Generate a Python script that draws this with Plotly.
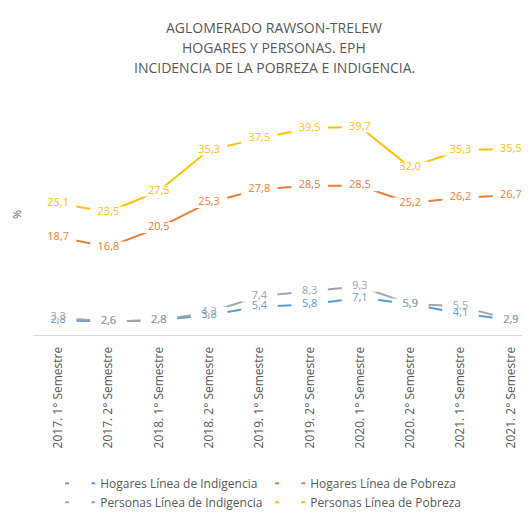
import plotly.graph_objects as go

categories = ["2017. 1° Semestre", "2017. 2° Semestre", "2018. 1° Semestre", "2018. 2° Semestre",
              "2019. 1° Semestre", "2019. 2° Semestre", "2020. 1° Semestre", "2020. 2° Semestre",
              "2021. 1° Semestre", "2021. 2° Semestre"]

hogares_indigencia = [2.8, 2.6, 2.8, 3.8, 5.4, 5.8, 7.1, 5.9, 4.1, 2.9]
hogares_pobreza = [18.7, 16.8, 20.5, 25.3, 27.8, 28.5, 28.5, 25.2, 26.2, 26.7]
personas_indigencia = [3.3, 2.6, 2.8, 4.3, 7.4, 8.3, 9.3, 5.9, 5.5, 2.9]
personas_pobreza = [25.1, 23.5, 27.5, 35.3, 37.5, 39.5, 39.7, 32.0, 35.3, 35.5]

title_lines = ["AGLOMERADO RAWSON-TRELEW", "HOGARES Y PERSONAS. EPH",
               "INCIDENCIA DE LA POBREZA E INDIGENCIA."]

series = [
    ("Hogares Línea de Indigencia", hogares_indigencia, "#5B9BD5"),
    ("Hogares Línea de Pobreza", hogares_pobreza, "#ED7D31"),
    ("Personas Línea de Indigencia", personas_indigencia, "#A5A5A5"),
    ("Personas Línea de Pobreza", personas_pobreza, "#FFC000"),
]

FONT = "Open Sans"
GREY = "#595959"

fig = go.Figure()
# lines, with a white band behind each data label (gap in the line)
for name, vals, color in series:
    fig.add_trace(go.Scatter(
        x=categories, y=vals, name=name, mode="lines+markers",
        line=dict(color=color, width=2),
        marker=dict(symbol="line-ew", size=26, color="white",
                    line=dict(color="white", width=11)),
        cliponaxis=False,
    ))
# data labels on top
for name, vals, color in series:
    fig.add_trace(go.Scatter(
        x=categories, y=vals, mode="text", showlegend=False, hoverinfo="skip",
        text=[f"{v:.1f}".replace(".", ",") for v in vals],
        textposition="middle center",
        textfont=dict(family=FONT, size=11, color=color),
        cliponaxis=False,
    ))

# three-line chart title
for i, line in enumerate(title_lines):
    fig.add_annotation(
        text=line, xref="paper", yref="paper", x=0.48, y=1.274 - 0.083 * i,
        xanchor="center", yanchor="middle", showarrow=False,
        font=dict(family=FONT, size=14, color=GREY),
    )

fig.update_layout(
    width=530, height=515,
    margin=dict(l=25, r=2, t=86, b=188),
    paper_bgcolor="white", plot_bgcolor="white",
    font=dict(family=FONT, color=GREY),
    xaxis=dict(
        type="category", range=[-0.5, 9.5], automargin=False,
        showline=True, linecolor="#D9D9D9", linewidth=1,
        showgrid=False, zeroline=False, ticks="",
        tickangle=-90, tickfont=dict(family=FONT, size=12, color=GREY),
        ticklabelstandoff=6,
    ),
    yaxis=dict(
        range=[0, 46], automargin=False,
        showgrid=False, zeroline=False, showline=False,
        showticklabels=False, ticks="",
        title=dict(text="%", font=dict(family=FONT, size=11, color=GREY), standoff=8),
    ),
    legend=dict(
        orientation="h", x=0.054, xanchor="left", y=-0.555, yanchor="top",
        entrywidth=165, entrywidthmode="pixels",
        font=dict(family=FONT, size=12, color=GREY),
        itemwidth=30, tracegroupgap=0,
    ),
    showlegend=True,
)

fig.write_html("out.html")
